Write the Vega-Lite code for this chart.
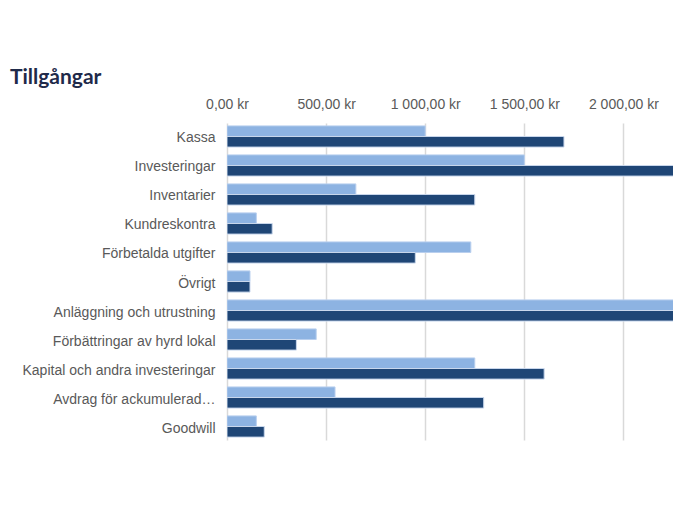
{
  "$schema": "https://vega.github.io/schema/vega-lite/v6.json",
  "autosize": {"type": "none"},
  "padding": {"left": 227, "top": 123, "right": 2, "bottom": 80},
  "width": 446,
  "height": 317,
  "background": "#ffffff",
  "title": {
    "text": "Tillgångar",
    "anchor": "start",
    "frame": "group",
    "dx": -217,
    "offset": 9,
    "font": "Lato",
    "fontSize": 21,
    "fontWeight": "bold",
    "color": "#1F2A4A"
  },
  "data": {
    "values": [
      {"kategori": "Kassa", "serie": "År 1", "belopp": 1000},
      {"kategori": "Kassa", "serie": "År 2", "belopp": 1700},
      {"kategori": "Investeringar", "serie": "År 1", "belopp": 1500},
      {"kategori": "Investeringar", "serie": "År 2", "belopp": 2300},
      {"kategori": "Inventarier", "serie": "År 1", "belopp": 650},
      {"kategori": "Inventarier", "serie": "År 2", "belopp": 1250},
      {"kategori": "Kundreskontra", "serie": "År 1", "belopp": 148},
      {"kategori": "Kundreskontra", "serie": "År 2", "belopp": 228},
      {"kategori": "Förbetalda utgifter", "serie": "År 1", "belopp": 1230},
      {"kategori": "Förbetalda utgifter", "serie": "År 2", "belopp": 950},
      {"kategori": "Övrigt", "serie": "År 1", "belopp": 116},
      {"kategori": "Övrigt", "serie": "År 2", "belopp": 116},
      {"kategori": "Anläggning och utrustning", "serie": "År 1", "belopp": 2500},
      {"kategori": "Anläggning och utrustning", "serie": "År 2", "belopp": 2500},
      {"kategori": "Förbättringar av hyrd lokal", "serie": "År 1", "belopp": 450},
      {"kategori": "Förbättringar av hyrd lokal", "serie": "År 2", "belopp": 350},
      {"kategori": "Kapital och andra investeringar", "serie": "År 1", "belopp": 1250},
      {"kategori": "Kapital och andra investeringar", "serie": "År 2", "belopp": 1600},
      {"kategori": "Avdrag för ackumulerad…", "serie": "År 1", "belopp": 545},
      {"kategori": "Avdrag för ackumulerad…", "serie": "År 2", "belopp": 1295},
      {"kategori": "Goodwill", "serie": "År 1", "belopp": 148},
      {"kategori": "Goodwill", "serie": "År 2", "belopp": 188}
    ]
  },
  "mark": {"type": "bar", "clip": true, "strokeWidth": 1},
  "encoding": {
    "y": {
      "field": "kategori",
      "type": "nominal",
      "sort": null,
      "title": null,
      "scale": {"paddingInner": 0.27, "paddingOuter": 0.1},
      "axis": {
        "domain": false,
        "ticks": false,
        "labelPadding": 12,
        "labelOffset": 2,
        "labelFont": "Liberation Sans",
        "labelFontSize": 14,
        "labelColor": "#595959",
        "labelLimit": 300
      }
    },
    "yOffset": {"field": "serie", "type": "nominal", "sort": ["År 1", "År 2"], "scale": {"paddingInner": 0, "paddingOuter": 0}},
    "x": {
      "field": "belopp",
      "type": "quantitative",
      "title": null,
      "scale": {"domain": [0, 2250], "nice": false, "zero": true},
      "axis": {
        "orient": "top",
        "values": [0, 500, 1000, 1500, 2000],
        "labelExpr": "replace(replace(format(datum.value, ',.2f'), ',', ' '), '.', ',') + ' kr'",
        "domain": false,
        "ticks": false,
        "grid": true,
        "gridColor": "#d9d9d9",
        "gridWidth": 1.5,
        "labelPadding": 12,
        "labelFont": "Liberation Sans",
        "labelFontSize": 14,
        "labelColor": "#595959",
        "labelFlush": false
      }
    },
    "color": {
      "field": "serie",
      "type": "nominal",
      "legend": null,
      "scale": {"domain": ["År 1", "År 2"], "range": ["#8DB3E2", "#1F4676"]}
    },
    "stroke": {
      "field": "serie",
      "type": "nominal",
      "legend": null,
      "scale": {"domain": ["År 1", "År 2"], "range": ["#B9CFEE", "#C9D7EC"]}
    }
  },
  "config": {"view": {"stroke": null}}
}
